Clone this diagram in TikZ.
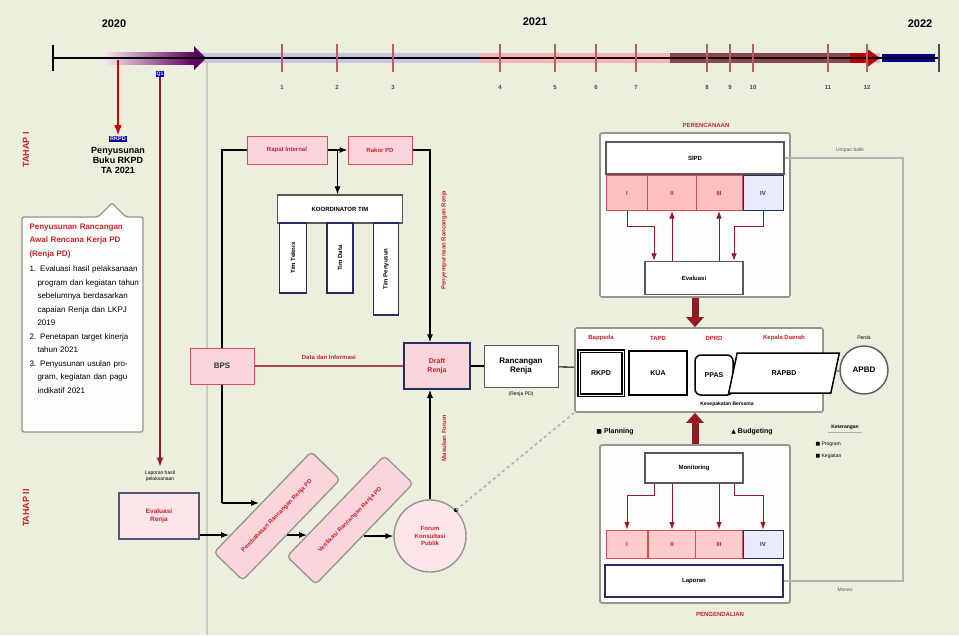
\documentclass[tikz,border=0pt]{standalone}
\usepackage{fontspec}
\setmainfont{Liberation Sans}
\newfontfamily\symfont{DejaVu Sans}
\usepackage{xcolor}
\usepackage{tikz}
\usetikzlibrary{calc, positioning, arrows.meta, shapes.geometric}

\definecolor{latar}{RGB}{236,238,222}
\definecolor{merah}{RGB}{200,35,45}
\definecolor{merahtua}{RGB}{150,25,35}
\definecolor{merahmuda}{RGB}{250,214,220}
\definecolor{biru}{RGB}{40,45,95}
\definecolor{abu}{RGB}{150,150,140}
\definecolor{pita}{RGB}{198,198,222}
\definecolor{coklat}{RGB}{140,70,80}

\tikzset{
  kotakmerah/.style={draw=merah!80, line width=1pt, fill=merahmuda, text=merah,
    font=\fontsize{6}{7}\selectfont\bfseries, align=center, inner sep=2pt},
  kotakabu/.style={draw=gray!70!black, line width=1.3pt, fill=white, align=center,
    font=\fontsize{6}{7}\selectfont\bfseries, inner sep=2pt},
  kotaktim/.style={draw=biru, line width=1.3pt, fill=white, rotate=90,
    font=\fontsize{6}{7}\selectfont\bfseries, inner sep=2pt},
  bingkai/.style={draw=abu, line width=1.6pt, rounded corners=2pt, fill=white!88!latar},
  miring/.style={draw=abu, line width=1.3pt, fill=merahmuda, rounded corners=4pt, rotate=46,
    minimum width=140pt, minimum height=40pt, text=merah, align=center,
    font=\fontsize{6}{7}\selectfont\bfseries, inner sep=1pt},
  garis/.style={draw=black, line width=1.1pt},
  teksmerah/.style={text=merah, font=\fontsize{6}{7}\selectfont\bfseries},
  kecil/.style={font=\fontsize{5}{6.5}\selectfont, align=center},
  tahun/.style={font=\fontsize{11}{12}\selectfont\bfseries},
  panahtebal/.style={-{Triangle[width=17pt,length=10pt]}, line width=7pt, merahtua},
}

\begin{document}
\begin{tikzpicture}[x=1pt, y=-1pt, >=Latex, font=\fontsize{6}{7}\selectfont]
    % 0. Latar dan batas gambar
    \fill[latar] (0,0) rectangle (959,635);
    \useasboundingbox (0,0) rectangle (959,635);
    \draw[abu!50, line width=2.5pt] (207,62) -- (207,635);

    % 1. Garis waktu
    \fill[pita] (200,53) rectangle (880,63);
    \fill[red!30] (480,53) rectangle (670,63);
    \fill[coklat] (670,53) rectangle (850,63);
    \fill[red!75!black] (850,53) rectangle (866,63);
    \fill[red!75!black] (866,48) -- (880,58) -- (866,68) -- cycle;
    \fill[blue!55!black] (882,54) rectangle (935,62);
    \shade[left color=purple!8, right color=violet!75!black] (103,52) rectangle (194,64);
    \fill[violet!75!black] (194,46) -- (206,58) -- (194,70) -- cycle;
    \draw[line width=1.3pt] (53,58) -- (939,58);
    \draw[line width=2.4pt] (53,45) -- (53,71);
    \draw[line width=2.4pt, gray!60!black] (939,44) -- (939,72);
    \foreach \x/\n in {282/1, 337/2, 393/3, 500/4, 555/5, 596/6, 636/7, 707/8, 730/9, 753/10, 828/11, 867/12} {
        \draw[merahtua!70, line width=1.6pt] (\x,44) -- (\x,72);
        \node[font=\fontsize{6}{7}\selectfont\bfseries, text=gray!60!black] at (\x,87) {\n};
    }
    \node[tahun] (th20) at (114,24) {2020};
    \node[tahun] (th21) at (535,22) {2021};
    \node[tahun] (th22) at (920,24) {2022};
    \node[fill=blue!65!black, text=white, font=\fontsize{5}{5}\selectfont\bfseries, inner sep=1pt] (q1) at (160,74) {Q1};
    \coordinate (m1) at (118,60);

    % 2. Kolom kiri
    \node[teksmerah, rotate=90, font=\fontsize{9}{10}\selectfont\bfseries] (tahap1) at (26,150) {TAHAP I};
    \node[teksmerah, rotate=90, font=\fontsize{9}{10}\selectfont\bfseries] (tahap2) at (26,508) {TAHAP II};
    \node[fill=blue!65!black, text=white, font=\fontsize{5.5}{6}\selectfont\bfseries, inner sep=1.5pt] (lbl1) at (118,139) {RKPD};
    \node[font=\fontsize{9}{10}\selectfont\bfseries, align=center, below=1pt of lbl1] (buku) {Penyusunan\\Buku RKPD\\TA 2021};
    \draw[->, red!80!black, line width=1.6pt] (m1) -- (lbl1.north);
    \draw[abu, line width=1.4pt, fill=white!90!latar, rounded corners=2pt]
        (22,217) -- (98,217) -- (112,203) -- (126,217) -- (143,217) -- (143,432) -- (22,432) -- cycle;
    \node[text width=110pt, align=left, anchor=north west, font=\fontsize{8}{13.5}\selectfont] (renja) at (26,220) {%
        {\color{merah}\bfseries Penyusunan Rancangan Awal Rencana Kerja PD (Renja PD)\par}\vspace{2pt}
        {\hangindent=8pt\hangafter=1 1. Evaluasi hasil pelaksanaan program dan kegiatan tahun sebelumnya berdasarkan capaian Renja dan LKPJ 2019\par}
        {\hangindent=8pt\hangafter=1 2. Penetapan target kinerja tahun 2021\par}
        {\hangindent=8pt\hangafter=1 3. Penyusunan usulan program, kegiatan dan pagu indikatif 2021\par}};
    \node[kecil] (keglbl) at (160,476) {Laporan hasil\\pelaksanaan};
    \node[draw=biru!80, line width=1.8pt, fill=merahmuda!60, text=merah, font=\fontsize{6.5}{8}\selectfont\bfseries,
        minimum width=80pt, minimum height=46pt, align=center] (keg) at (159,516) {Evaluasi\\Renja};
    \draw[->, merahtua, line width=1.4pt] (q1.south) -- (keglbl.north);

    % 3. Bagian tengah
    \node[kotakmerah, minimum width=80pt, minimum height=28pt] (rap1) at (287,150) {Rapat Internal};
    \node[kotakmerah, minimum width=64pt, minimum height=28pt] (rap2) at (380,150) {Rakor PD};
    \coordinate (kiriatas) at (222,150);
    \coordinate (kiribawah) at (222,503);
    \coordinate (kananatas) at (430,150);
    \coordinate (tengah) at ($(rap1.east)!0.5!(rap2.west)$);
    \draw[garis, ->] (rap1) -- (rap2);
    \node[kotakabu, minimum width=125pt, minimum height=28pt] (koord) at (340,209) {KOORDINATOR TIM};
    \draw[garis, ->] (tengah) -- (tengah |- koord.north);
    \node[kotaktim, minimum width=70pt, minimum height=27pt] (tim1) at (293,258) {Tim Teknis};
    \node[kotaktim, minimum width=70pt, minimum height=26pt] (tim2) at (340,258) {Tim Data};
    \node[kotaktim, minimum width=92pt, minimum height=25pt] (tim3) at (386,269) {Tim Penyusun};
    \node[teksmerah, rotate=90] (lblatas) at (444,240) {Penyempurnaan Rancangan Renja};
    \node[teksmerah, rotate=90] (lblbawah) at (444,438) {Masukan Forum};

    \node[kotakmerah, minimum width=64pt, minimum height=36pt, text=black!80,
        font=\fontsize{8}{9}\selectfont\bfseries] (bps) at (222,366) {BPS};
    \node[draw=biru, line width=1.6pt, fill=merahmuda, minimum width=66pt, minimum height=46pt, align=center,
        font=\fontsize{7}{9}\selectfont\bfseries, text=merah] (draft) at (437,366) {Draft\\Renja};
    \node[draw=gray!70!black, line width=1pt, fill=white, minimum width=74pt, minimum height=42pt,
        font=\fontsize{8}{9.5}\selectfont\bfseries, align=center] (param) at (521,366) {Rancangan\\Renja};
    \node[kecil, below=1pt of param] (paramlbl) {(Renja PD)};

    \draw[garis] (rap1.west) -- (kiriatas) -- (bps.north);
    \draw[garis, ->] (rap2.east) -- (kananatas) -- (kananatas |- draft.north);
    \draw[garis, merahtua!80] (bps) -- node[teksmerah, above=3pt] {Data dan Informasi} (draft);
    \draw[garis] (draft) -- (param);

    % 4. Rangkaian dokumen anggaran
    \node[bingkai, minimum width=248pt, minimum height=84pt] (grup) at (699,370) {};
    \node[draw, line width=1.8pt, double=white, double distance=1pt, minimum width=44pt, minimum height=44pt,
        fill=white, font=\fontsize{7}{8}\selectfont\bfseries] (g1) at (601,373) {RKPD};
    \node[draw, line width=1.5pt, minimum width=58pt, minimum height=44pt, fill=white,
        font=\fontsize{7}{8}\selectfont\bfseries] (g2) at (658,373) {KUA};
    \node[draw, line width=1.5pt, rounded corners=6pt, minimum width=38pt, minimum height=40pt, fill=white,
        font=\fontsize{7}{8}\selectfont\bfseries] (g3) at (714,375) {PPAS};
    \node[draw, line width=1.5pt, trapezium, trapezium left angle=78, trapezium right angle=102,
        minimum width=46pt, minimum height=40pt, inner xsep=1pt, fill=white, font=\fontsize{7}{8}\selectfont\bfseries] (g4) at (784,373) {RAPBD};
    \node[teksmerah] (lg1) at (601,338) {Bappeda};
    \node[teksmerah] (lg2) at (658,338) {TAPD};
    \node[teksmerah] (lg3) at (714,338) {DPRD};
    \node[teksmerah] (lg4) at (784,338) {Kepala Daerah};
    \node[kecil, font=\fontsize{5}{6}\selectfont\bfseries] (lgsepakat) at (727,404) {Kesepakatan Bersama};
    \node[circle, draw=gray!70!black, line width=1.4pt, minimum size=48pt, fill=white,
        font=\fontsize{8}{9}\selectfont\bfseries] (apbd) at (864,370) {APBD};
    \node[kecil] (lblapbd) at (864,338) {Perda};
    \draw[garis] (param) -- (grup);
    \draw[garis, gray!70!black] (g4) -- (apbd);

    % 5. Perencanaan (kanan atas)
    \node[bingkai, minimum width=190pt, minimum height=164pt] (rencana) at (695,215) {};
    \node[teksmerah] (lblrencana) at (706,125) {PERENCANAAN};
    \node[kotakabu, minimum width=178pt, minimum height=32pt] (sipd) at (695,158) {SIPD};
    \node[kotakmerah, fill=red!25, minimum width=41pt, minimum height=35pt] (a1) at (627,193) {I};
    \node[kotakmerah, fill=red!25, minimum width=49pt, minimum height=35pt] (a2) at (672,193) {II};
    \node[kotakmerah, fill=red!25, minimum width=46pt, minimum height=35pt] (a3) at (719,193) {III};
    \node[kotakmerah, draw=biru, fill=blue!8, text=biru, minimum width=40pt, minimum height=35pt] (a4) at (763,193) {IV};
    \node[kotakabu, minimum width=98pt, minimum height=33pt] (eval) at (694,278) {Evaluasi};
    \draw[merahtua, line width=1pt, ->] (a1.south) -- ++(0,15) -| ([xshift=-40pt]eval.north);
    \draw[merahtua, line width=1pt, <-] (a2.south) -- (a2.south |- eval.north);
    \draw[merahtua, line width=1pt, <-] (a3.south) -- (a3.south |- eval.north);
    \draw[merahtua, line width=1pt, ->] (a4.south) -- ++(0,15) -| ([xshift=40pt]eval.north);

    % 6. Pengendalian (kanan bawah)
    \node[bingkai, minimum width=190pt, minimum height=158pt] (kendali) at (695,524) {};
    \node[kotakabu, minimum width=98pt, minimum height=30pt] (monev) at (694,468) {Monitoring};
    \node[kotakmerah, fill=red!20, minimum width=41pt, minimum height=28pt] (b1) at (627,544) {I};
    \node[kotakmerah, fill=red!20, minimum width=47pt, minimum height=28pt] (b2) at (672,544) {II};
    \node[kotakmerah, fill=red!20, minimum width=47pt, minimum height=28pt] (b3) at (719,544) {III};
    \node[kotakmerah, draw=biru, fill=blue!8, text=biru, minimum width=40pt, minimum height=28pt] (b4) at (763,544) {IV};
    \node[draw=biru, line width=1.6pt, fill=white, minimum width=178pt, minimum height=32pt,
        font=\fontsize{6}{7}\selectfont\bfseries] (lapor) at (694,581) {Laporan};
    \node[teksmerah] (lblkendali) at (720,614) {PENGENDALIAN};
    \draw[merahtua, line width=1pt, ->] ([xshift=-40pt]monev.south) -- ++(0,12) -| (b1.north);
    \draw[merahtua, line width=1pt, ->] (b2.north |- monev.south) -- (b2.north);
    \draw[merahtua, line width=1pt, ->] (b3.north |- monev.south) -- (b3.north);
    \draw[merahtua, line width=1pt, ->] ([xshift=40pt]monev.south) -- ++(0,12) -| (b4.north);

    % 7. Panah tebal dan keterangan
    \draw[panahtebal] (rencana.south) -- (rencana.south |- grup.north);
    \draw[panahtebal] (kendali.north) -- (kendali.north |- grup.south);
    \node[font=\fontsize{7}{8}\selectfont\bfseries] (plan) at (615,432) {{\symfont\fontsize{6}{7}\selectfont■} Planning};
    \node[font=\fontsize{7}{8}\selectfont\bfseries] (budget) at (752,432) {{\symfont\fontsize{6}{7}\selectfont▲} Budgeting};
    \node[kecil, font=\fontsize{5}{6}\selectfont\bfseries] (leghead) at (845,427) {Keterangan};
    \draw[gray!60, line width=1pt] (leghead.south west) -- (leghead.south east);
    \node[kecil, anchor=west] (leg1) at (812,444) {{\symfont■} Program};
    \node[kecil, anchor=west] (leg2) at (812,456) {{\symfont■} Kegiatan};

    \coordinate (ka) at (903,158);
    \coordinate (kb) at (903,581);
    \draw[gray!60, line width=1.5pt] (sipd.east) -- (ka) -- (kb) -- (lapor.east);
    \node[kecil, text=gray!70!black] (lblumpan) at (850,150) {Umpan balik};
    \node[kecil, text=gray!70!black] (lblmonev) at (845,590) {Monev};

    % 8. Bagian bawah tengah
    \node[miring] (bahas1) at (277,516) {Pembahasan Rancangan Renja PD};
    \node[miring] (bahas2) at (350,520) {Verifikasi Rancangan Renja PD};
    \node[circle, draw=abu, line width=1.4pt, fill=merahmuda!60, minimum size=72pt, text=merah, align=center,
        font=\fontsize{6}{7.5}\selectfont\bfseries] (konsul) at (430,536) {Forum\\Konsultasi\\Publik};
    \coordinate (masuk1) at (259,503);
    \coordinate (masuk2) at (229,535);
    \coordinate (keluar1) at (287,535);
    \coordinate (masuk3) at (307,535);
    \coordinate (keluar2) at (364,536);
    \draw[garis] (bps.south) -- (kiribawah);
    \draw[garis, ->] (kiribawah) -- (masuk1);
    \draw[garis, ->] (keg.east |- masuk2) -- (masuk2);
    \draw[garis, ->] (keluar1) -- (masuk3);
    \draw[garis, ->] (keluar2) -- (konsul.west);
    \draw[garis, ->] (konsul.north) -- (konsul.north |- draft.south);
    \fill (konsul.north east) circle (2);
    \draw[dashed, gray!60, line width=1.6pt] (konsul.north east) -- (grup.south west);
\end{tikzpicture}
\end{document}
